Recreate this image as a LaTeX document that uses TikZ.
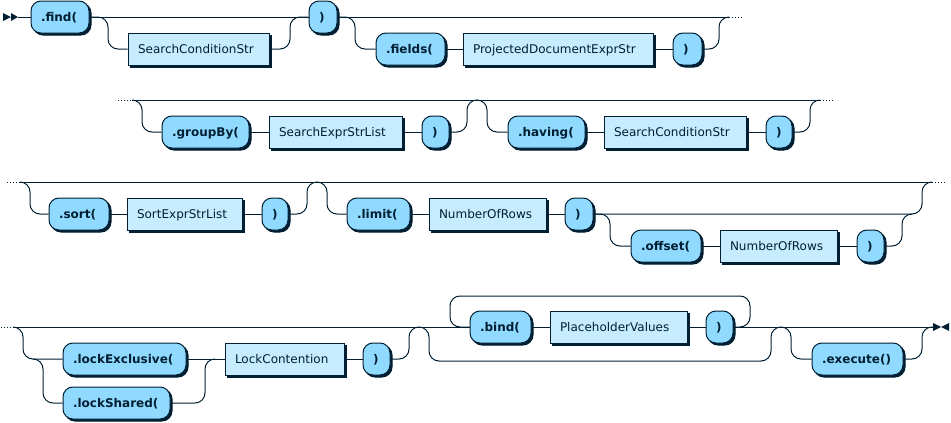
\documentclass[tikz,border=0pt]{standalone}
\usepackage{fontspec}
\setmainfont{DejaVu Sans}
\usetikzlibrary{shadows}
\definecolor{lc}{HTML}{001F33}
\definecolor{tfill}{HTML}{90D9FF}
\definecolor{nfill}{HTML}{C8ECFF}
\pgfdeclarelayer{bg}
\pgfsetlayers{bg,main}
% style, name, left, right, cy, text
\newcommand\rrbox[6]{%
  \pgfmathsetmacro\rrcx{(#3+#4)/2}%
  \pgfmathsetmacro\rrtw{#4-#3-20}%
  \node[#1, text width=\rrtw pt] (#2) at (\rrcx,#5) {#6};%
}
\begin{document}
\begin{tikzpicture}[x=1pt,y=-1pt,
  rrbase/.style={draw=lc, line width=1pt, inner xsep=10pt, inner ysep=0pt,
    minimum height=32pt, text height=8.8pt, text depth=0pt, align=left,
    text=lc,
    general shadow={fill=lc, draw=lc, shadow xshift=2pt, shadow yshift=-2pt}},
  term/.style={rrbase, fill=tfill, rounded corners=10pt,
    font=\fontsize{12}{14}\selectfont\bfseries},
  nterm/.style={rrbase, fill=nfill, font=\fontsize{12}{14}\selectfont},
  rl/.style={draw=lc, line width=1pt, rounded corners=10pt},
  cont/.style={draw=lc, line width=1pt, dash pattern=on 1pt off 2pt},
  endmark/.style={fill=lc}
]
\useasboundingbox (0,0) rectangle (951,423);

% ---------- row 1 ----------
\rrbox{term}{find}{31}{89}{17}{.find(}
\rrbox{nterm}{sc1}{128}{269}{49}{SearchConditionStr}
\rrbox{term}{close1}{309}{337}{17}{)}
\rrbox{term}{fields}{376}{445}{49}{.fields(}
\rrbox{nterm}{pd}{463}{653}{49}{ProjectedDocumentExprStr}
\rrbox{term}{fclose}{673}{702}{49}{)}
% ---------- row 2 ----------
\rrbox{term}{groupby}{162}{249}{132}{.groupBy(}
\rrbox{nterm}{sel}{269}{402}{132}{SearchExprStrList}
\rrbox{term}{gclose}{422}{449}{132}{)}
\rrbox{term}{having}{508}{585}{132}{.having(}
\rrbox{nterm}{sc2}{604}{746}{132}{SearchConditionStr}
\rrbox{term}{hclose}{766}{792}{132}{)}
% ---------- row 3 ----------
\rrbox{term}{sort}{49}{109}{214}{.sort(}
\rrbox{nterm}{sesl}{127}{242}{214}{SortExprStrList}
\rrbox{term}{sclose}{262}{288}{214}{)}
\rrbox{term}{limit}{347}{410}{214}{.limit(}
\rrbox{nterm}{nr1}{429}{546}{214}{NumberOfRows}
\rrbox{term}{lclose}{565}{593}{214}{)}
\rrbox{term}{offset}{631}{701}{246}{.offset(}
\rrbox{nterm}{nr2}{720}{837}{246}{NumberOfRows}
\rrbox{term}{oclose}{857}{884}{246}{)}
% ---------- row 4 ----------
\rrbox{term}{lockex}{63}{186}{359}{.lockExclusive(}
\rrbox{term}{locksh}{63}{170}{403}{.lockShared(}
\rrbox{nterm}{lc}{225}{344}{359}{LockContention}
\rrbox{term}{lkclose}{363}{390}{359}{)}
\rrbox{term}{bind}{470}{531}{327}{.bind(}
\rrbox{nterm}{phv}{550}{687}{327}{PlaceholderValues}
\rrbox{term}{bclose}{706}{733}{327}{)}
\rrbox{term}{execute}{812}{903}{359}{.execute()}

% ---------- coordinates ----------
\coordinate (start) at (18,17);
\coordinate (b1) at (108,49);
\coordinate (b2) at (290,17);
\coordinate (b3) at (355,49);
\coordinate (b4) at (719,17);
\coordinate (e1) at (729,17);
\coordinate (d1) at (742,17);

\coordinate (d2s) at (118,100);
\coordinate (s2) at (132,100);
\coordinate (b5) at (142,132);
\coordinate (h1) at (467,100);
\coordinate (b6) at (487,132);
\coordinate (b7) at (810,100);
\coordinate (e2) at (820,100);
\coordinate (d2e) at (833,100);

\coordinate (d3s) at (7,182);
\coordinate (s3) at (20,182);
\coordinate (b8) at (30,214);
\coordinate (h2) at (307,182);
\coordinate (b9) at (327,214);
\coordinate (b10) at (922,182);
\coordinate (b11) at (610,246);
\coordinate (b12) at (902,214);
\coordinate (m3) at (912,214);
\coordinate (e3) at (932,182);
\coordinate (d3e) at (945,182);

\coordinate (d4s) at (1,327);
\coordinate (s4) at (13,327);
\coordinate (b13) at (23,359);
\coordinate (m4) at (33,359);
\coordinate (b14) at (43,403);
\coordinate (b15) at (205,359);
\coordinate (m5) at (215,359);
\coordinate (h3) at (409,327);
\coordinate (b16) at (429,361);
\coordinate (h4) at (771,327);
\coordinate (b17) at (791,359);
\coordinate (lp2) at (750,296);
\coordinate (lp3) at (450,327);
\coordinate (b18) at (922,327);
\coordinate (e4) at (933,327);

\begin{pgfonlayer}{bg}
% row 1
\fill[endmark] (3,13) -- (11,17) -- (3,21) -- cycle;
\fill[endmark] (11,13) -- (18,17) -- (11,21) -- cycle;
\draw[rl] (start) -- (find.west);
\draw[rl] (find.east) -- (close1.west);
\draw[rl] (find.east) -| (b1) -- (sc1.west);
\draw[rl] (sc1.east) -| (b2) -- (close1.west);
\draw[rl] (close1.east) -- (e1);
\draw[rl] (close1.east) -| (b3) -- (fields.west);
\draw[rl] (fields.east) -- (pd.west);
\draw[rl] (pd.east) -- (fclose.west);
\draw[rl] (fclose.east) -| (b4) -- (e1);
\draw[cont] (e1) -- (d1);
% row 2
\draw[cont] (d2s) -- (s2);
\draw[rl] (s2) -- (e2);
\draw[rl] (s2) -| (b5) -- (groupby.west);
\draw[rl] (groupby.east) -- (sel.west);
\draw[rl] (sel.east) -- (gclose.west);
\draw[rl] (gclose.east) -| (h1) -| (b6) -- (having.west);
\draw[rl] (having.east) -- (sc2.west);
\draw[rl] (sc2.east) -- (hclose.west);
\draw[rl] (hclose.east) -| (b7) -- (e2);
\draw[cont] (e2) -- (d2e);
% row 3
\draw[cont] (d3s) -- (s3);
\draw[rl] (s3) -- (e3);
\draw[rl] (s3) -| (b8) -- (sort.west);
\draw[rl] (sort.east) -- (sesl.west);
\draw[rl] (sesl.east) -- (sclose.west);
\draw[rl] (sclose.east) -| (h2) -| (b9) -- (limit.west);
\draw[rl] (limit.east) -- (nr1.west);
\draw[rl] (nr1.east) -- (lclose.west);
\draw[rl] (lclose.east) -| (b10) -- (e3);
\draw[rl] (lclose.east) -| (b11) -- (offset.west);
\draw[rl] (offset.east) -- (nr2.west);
\draw[rl] (nr2.east) -- (oclose.west);
\draw[rl] (oclose.east) -| (b12) -- (m3);
\draw[cont] (e3) -- (d3e);
% row 4
\draw[cont] (d4s) -- (s4);
\draw[rl] (s4) -- (bind.west);
\draw[rl] (s4) -| (b13) -- (lockex.west);
\draw[rl] (m4) -| (b14) -- (locksh.west);
\draw[rl] (lockex.east) -- (lc.west);
\draw[rl] (locksh.east) -| (b15) -- (m5);
\draw[rl] (lc.east) -- (lkclose.west);
\draw[rl] (lkclose.east) -| (h3) -| (b16) -| (h4) -| (b17) -- (execute.west);
\draw[rl] (bind.east) -- (phv.west);
\draw[rl] (phv.east) -- (bclose.west);
\draw[rl] (bclose.east) -- (e4);
\draw[rl] (bclose.east) -| (lp2) -| (lp3) -- (bind.west);
\draw[rl] (execute.east) -| (b18) -- (e4);
\fill[endmark] (933,323) -- (941,327) -- (933,331) -- cycle;
\fill[endmark] (949,323) -- (941,327) -- (949,331) -- cycle;
\end{pgfonlayer}
\end{tikzpicture}
\end{document}
